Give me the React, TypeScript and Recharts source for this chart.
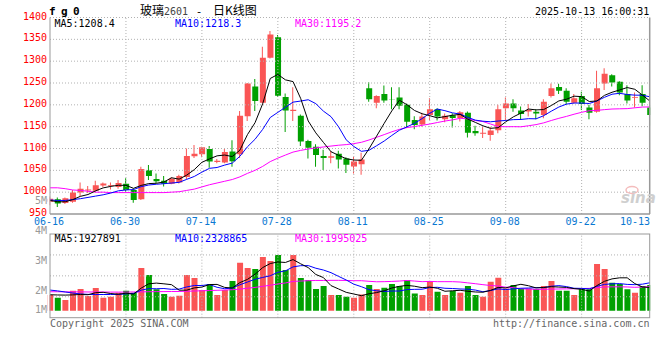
import React from "react";
import { ComposedChart, Bar, Line, XAxis, YAxis, ReferenceLine, Cell } from "recharts";

// 日K 数据 (玻璃2601)
const dates = [
  "06-16", "06-17", "06-18", "06-19", "06-20", "06-23", "06-24", "06-25", "06-26", "06-27",
  "06-30", "07-01", "07-02", "07-03", "07-04", "07-07", "07-08", "07-09", "07-10", "07-11",
  "07-14", "07-15", "07-16", "07-17", "07-18", "07-21", "07-22", "07-23", "07-24", "07-25",
  "07-28", "07-29", "07-30", "07-31", "08-01", "08-04", "08-05", "08-06", "08-07", "08-08",
  "08-11", "08-12", "08-13", "08-14", "08-15", "08-18", "08-19", "08-20", "08-21", "08-22",
  "08-25", "08-26", "08-27", "08-28", "08-29", "09-01", "09-02", "09-03", "09-04", "09-05",
  "09-08", "09-09", "09-10", "09-11", "09-12", "09-15", "09-16", "09-17", "09-18", "09-19",
  "09-22", "09-23", "09-24", "09-25", "09-26", "09-29", "09-30", "10-09", "10-10", "10-13",
];

const open = [
  978, 984, 975, 978, 999, 1004, 1003, 1015, 1014, 1012,
  1019, 1005, 984, 1050, 1030, 1026, 1019, 1022, 1035, 1082,
  1087, 1099, 1069, 1068, 1093, 1087, 1174, 1242, 1205, 1308,
  1355, 1218, 1186, 1175, 1117, 1104, 1083, 1079, 1088, 1077,
  1059, 1064, 1238, 1205, 1225, 1213, 1217, 1200, 1165, 1155,
  1177, 1190, 1167, 1176, 1170, 1182, 1140, 1134, 1131, 1142,
  1192, 1203, 1187, 1185, 1184, 1177, 1220, 1241, 1232, 1205,
  1220, 1194, 1184, 1249, 1268, 1253, 1225, 1216, 1225, 1194,
];
const close = [
  985, 974, 986, 999, 1008, 1006, 1016, 1020, 1016, 1021,
  1005, 982, 1053, 1037, 1025, 1019, 1031, 1037, 1083, 1088,
  1103, 1070, 1072, 1092, 1071, 1175, 1249, 1209, 1308, 1361,
  1221, 1187, 1189, 1116, 1102, 1085, 1078, 1082, 1075, 1063,
  1070, 1075, 1213, 1220, 1210, 1212, 1198, 1161, 1154, 1173,
  1190, 1173, 1175, 1170, 1183, 1136, 1135, 1136, 1141, 1190,
  1203, 1192, 1179, 1188, 1180, 1207, 1238, 1232, 1207, 1215,
  1202, 1182, 1238, 1271, 1251, 1228, 1210, 1218, 1205, 1177,
];
const high = [
  990, 988, 988, 1005, 1022, 1014, 1026, 1022, 1022, 1028,
  1032, 1009, 1058, 1062, 1043, 1037, 1034, 1040, 1100, 1108,
  1104, 1106, 1076, 1099, 1119, 1186, 1250, 1259, 1333, 1369,
  1360, 1226, 1240, 1178, 1120, 1110, 1097, 1094, 1095, 1080,
  1081, 1090, 1252, 1222, 1244, 1240, 1240, 1203, 1174, 1182,
  1215, 1192, 1180, 1181, 1186, 1185, 1152, 1150, 1150, 1200,
  1217, 1213, 1196, 1202, 1190, 1213, 1249, 1248, 1238, 1225,
  1230, 1200, 1278, 1284, 1270, 1254, 1245, 1228, 1245, 1200,
];
const low = [
  970, 966, 973, 976, 990, 998, 1000, 1012, 1006, 1008,
  1001, 976, 982, 1028, 1020, 1013, 1018, 1020, 1030, 1078,
  1080, 1056, 1066, 1066, 1058, 1078, 1163, 1186, 1203, 1306,
  1218, 1138, 1163, 1106, 1077, 1058, 1051, 1066, 1054, 1044,
  1043, 1040, 1207, 1192, 1205, 1190, 1190, 1148, 1144, 1150,
  1165, 1164, 1160, 1148, 1162, 1125, 1129, 1124, 1118, 1135,
  1165, 1184, 1165, 1173, 1167, 1169, 1217, 1225, 1200, 1203,
  1188, 1167, 1182, 1234, 1242, 1222, 1203, 1194, 1197, 1152,
];

// 均线 (价格)
const ma5 = [
  981, 978, 978, 983, 990.4, 994.6, 1003, 1009.8, 1013.2, 1015.8,
  1015.6, 1008.8, 1015.4, 1019.6, 1020.4, 1023.2, 1033, 1029.8, 1039, 1051.6,
  1068.4, 1076.2, 1083.2, 1085, 1081.6, 1096, 1131.8, 1159.2, 1202.4, 1260.4,
  1269.6, 1257.2, 1253.2, 1214.8, 1163, 1135.8, 1114, 1092.6, 1084.4, 1076.6,
  1073.6, 1073, 1099.2, 1128.2, 1157.6, 1186, 1210.6, 1200.2, 1187, 1179.6,
  1175.2, 1170.2, 1173, 1176.2, 1178.2, 1167.4, 1159.8, 1152, 1146.2, 1147.6,
  1161, 1172.4, 1181, 1190.4, 1188.4, 1189.2, 1198.4, 1209, 1212.8, 1219.8,
  1218.8, 1207.6, 1208.8, 1221.6, 1228.8, 1234, 1239.6, 1235.6, 1222.4, 1208.4,
];
const ma10 = [
  982, 981, 981, 983, 985, 988, 991, 994, 998, 1003.1,
  1005.1, 1005.9, 1012.6, 1016.4, 1018.1, 1019.4, 1020.9, 1022.6, 1029.3, 1036,
  1045.8, 1054.6, 1056.5, 1062, 1066.6, 1082.2, 1104, 1121.2, 1143.7, 1171,
  1182.8, 1194.5, 1206.2, 1208.6, 1211.7, 1202.7, 1185.6, 1172.9, 1149.6, 1119.8,
  1104.7, 1093.5, 1095.9, 1106.3, 1117.1, 1129.8, 1141.8, 1149.7, 1157.6, 1168.6,
  1180.6, 1190.4, 1186.6, 1181.6, 1178.9, 1171.3, 1165, 1162.5, 1161.2, 1162.9,
  1164.2, 1166.1, 1166.5, 1168.3, 1168, 1175.1, 1185.4, 1195, 1201.6, 1204.1,
  1204, 1203, 1208.9, 1217.2, 1224.3, 1226.4, 1223.6, 1222.2, 1222, 1218.3,
];
const ma30 = [
  1010, 1010, 1008, 1005, 1004, 1002, 1000, 1000, 999, 999,
  999, 999, 999, 999, 999, 999, 1000, 1001, 1004, 1007,
  1012, 1017, 1021, 1025, 1029, 1035, 1043, 1050, 1059, 1070,
  1077.9, 1085, 1091.8, 1095.7, 1098.8, 1101.4, 1103.5, 1105.6, 1107.5, 1108.9,
  1111.1, 1114.2, 1119.5, 1125.6, 1131.8, 1138.2, 1143.8, 1147.9, 1150.3, 1153.1,
  1156, 1159.5, 1162.9, 1165.5, 1169.2, 1167.9, 1164.1, 1161.7, 1156.1, 1150.4,
  1149.8, 1150, 1149.7, 1152.1, 1154.7, 1158.7, 1164.1, 1169.1, 1173.5, 1178.5,
  1182.9, 1186.5, 1187.3, 1189, 1190.4, 1190.9, 1191.3, 1193.2, 1194.9, 1195.2,
];

// 成交量 (百万手)
const volume = [
  1.31, 1.08, 0.89, 1.67, 1.81, 1.22, 1.89, 1.08, 1.17, 1.5,
  1.67, 1.5, 3.56, 2.97, 1.78, 1.39, 1.17, 1.25, 2.97, 2.72,
  1.72, 2.22, 1.31, 1.72, 2.47, 4.0, 3.56, 3.47, 4.47, 4.14,
  4.64, 3.39, 4.64, 2.72, 2.56, 1.81, 2.06, 1.31, 1.31, 1.17,
  1.08, 1.36, 2.14, 1.81, 1.92, 2.22, 2.06, 2.56, 1.44, 1.31,
  2.47, 1.58, 1.31, 1.64, 1.5, 2.06, 1.31, 1.17, 2.42, 2.75,
  1.86, 2.14, 1.81, 1.86, 1.81, 2.06, 2.47, 1.67, 1.67, 1.31,
  1.78, 1.78, 3.89, 3.47, 2.33, 2.22, 1.78, 1.5, 2.06, 2.14,
];
const volMa5 = [
  1.33, 1.31, 1.3, 1.32, 1.35, 1.33, 1.5, 1.53, 1.43, 1.37,
  1.46, 1.38, 1.88, 2.24, 2.3, 2.24, 2.17, 1.71, 1.71, 1.9,
  1.97, 2.18, 2.19, 1.94, 1.89, 2.34, 2.61, 3.04, 3.59, 3.93,
  4.06, 4.02, 4.26, 3.91, 3.59, 3.02, 2.76, 2.09, 1.81, 1.53,
  1.39, 1.25, 1.41, 1.51, 1.66, 1.89, 2.03, 2.11, 2.04, 1.92,
  1.97, 1.87, 1.62, 1.66, 1.7, 1.62, 1.56, 1.54, 1.69, 1.94,
  1.9, 2.07, 2.2, 2.08, 1.9, 1.94, 2.0, 1.97, 1.94, 1.84,
  1.78, 1.64, 2.09, 2.45, 2.65, 2.74, 2.74, 2.26, 1.98, 1.93,
];
const volMa10 = [
  1.72, 1.65, 1.56, 1.47, 1.4, 1.36, 1.35, 1.35, 1.35, 1.36,
  1.4, 1.44, 1.71, 1.84, 1.83, 1.85, 1.78, 1.8, 1.98, 2.1,
  2.1, 2.18, 1.95, 1.83, 1.89, 2.16, 2.39, 2.62, 2.77, 2.91,
  3.2, 3.32, 3.65, 3.75, 3.76, 3.54, 3.39, 3.17, 2.86, 2.56,
  2.21, 2.0, 1.75, 1.66, 1.6, 1.64, 1.64, 1.76, 1.78, 1.79,
  1.93, 1.95, 1.87, 1.85, 1.81, 1.79, 1.72, 1.58, 1.68, 1.82,
  1.76, 1.82, 1.87, 1.89, 1.92, 1.92, 2.04, 2.09, 2.01, 1.87,
  1.86, 1.82, 2.03, 2.19, 2.24, 2.26, 2.19, 2.17, 2.21, 2.33,
];
const volMa30 = [
  1.58, 1.58, 1.57, 1.57, 1.57, 1.56, 1.56, 1.56, 1.55, 1.55,
  1.55, 1.56, 1.57, 1.58, 1.59, 1.59, 1.6, 1.6, 1.62, 1.64,
  1.66, 1.68, 1.7, 1.72, 1.75, 1.8, 1.87, 1.94, 2.03, 2.12,
  2.23, 2.31, 2.44, 2.47, 2.5, 2.52, 2.52, 2.53, 2.53, 2.52,
  2.5, 2.5, 2.45, 2.41, 2.42, 2.44, 2.47, 2.52, 2.47, 2.42,
  2.44, 2.42, 2.42, 2.42, 2.39, 2.32, 2.25, 2.17, 2.1, 2.06,
  1.96, 1.92, 1.83, 1.8, 1.78, 1.78, 1.8, 1.81, 1.82, 1.83,
  1.85, 1.86, 1.92, 1.98, 1.99, 1.99, 1.98, 1.95, 1.97, 2.0,
];

const priceTicks = [950, 1000, 1050, 1100, 1150, 1200, 1250, 1300, 1350, 1400];
const dateTicks = ["06-16", "06-30", "07-14", "07-28", "08-11", "08-25", "09-08", "09-22", "10-13"];
const gridDates = ["06-30", "07-14", "07-28", "08-11", "08-25", "09-08", "09-22"];
const volLabels = ["5M", "4M", "3M", "2M", "1M"];

const MONO = "'DejaVu Sans Mono', monospace";
const CJK = "'Noto Sans CJK SC', sans-serif";
const RED = "#fa5555";
const GREEN = "#00a000";
const GRID = "#b0b0b0";
const VOL_MIN = -0.5833;
const VOL_MAX = 6.3917;

const rows = dates.map((d, i) => ({
  date: d,
  body: [Math.min(open[i], close[i]), Math.max(open[i], close[i])],
  wick: [low[i], high[i]],
  up: close[i] >= open[i],
  ma5: ma5[i],
  ma10: ma10[i],
  ma30: ma30[i],
  vol: volume[i],
  vma5: volMa5[i],
  vma10: volMa10[i],
  vma30: volMa30[i],
}));

const PriceTick = ({ y, payload }: any) => (
  <text x={47} y={y + 2} textAnchor="end" fill="#ff0000" fontSize={10} fontFamily={MONO}>
    {payload.value}
  </text>
);

const DateTick = ({ x, payload }: any) => {
  const last = payload.value === dates[dates.length - 1];
  return (
    <text x={last ? 650 : x - 1} y={225} textAnchor={last ? "end" : "middle"} fill="#0a78d2" fontSize={10} fontFamily={MONO}>
      {payload.value}
    </text>
  );
};

const PriceChart = () => (
  <ComposedChart width={660} height={232} data={rows} margin={{ top: 17.5, right: 6.2, left: 0, bottom: 0 }}>
    <XAxis xAxisId="b" dataKey="date" ticks={dateTicks} interval={0} tick={<DateTick />} axisLine={false} tickLine={false} height={18} />
    <XAxis xAxisId="w" dataKey="date" hide />
    <YAxis domain={[950, 1400]} ticks={priceTicks} interval={0} allowDataOverflow width={46.2} tick={<PriceTick />} axisLine={false} tickLine={false} />
    {priceTicks.slice(1).map((p) => (
      <ReferenceLine key={p} xAxisId="b" segment={[{ x: dates[0], y: p }, { x: dates[dates.length - 1], y: p }]} stroke={GRID} strokeDasharray="1 2" />
    ))}
    {gridDates.map((d) => (
      <ReferenceLine key={d} xAxisId="b" x={d} stroke={GRID} strokeDasharray="1 2" />
    ))}
    <Bar xAxisId="w" dataKey="wick" barSize={1} isAnimationActive={false}>
      {rows.map((r, i) => (
        <Cell key={i} fill={r.up ? RED : GREEN} />
      ))}
    </Bar>
    <Bar xAxisId="b" dataKey="body" barSize={6} isAnimationActive={false}>
      {rows.map((r, i) => (
        <Cell key={i} fill={r.up ? RED : GREEN} />
      ))}
    </Bar>
    <Line xAxisId="b" dataKey="ma30" stroke="#ff00ff" strokeWidth={1} dot={false} isAnimationActive={false} />
    <Line xAxisId="b" dataKey="ma10" stroke="#0000ff" strokeWidth={1} dot={false} isAnimationActive={false} />
    <Line xAxisId="b" dataKey="ma5" stroke="#000000" strokeWidth={1} dot={false} isAnimationActive={false} />
  </ComposedChart>
);

const volGrid = [1, 2, 3].map((k) => VOL_MAX - (k * (VOL_MAX - VOL_MIN)) / 4);

const VolumeChart = () => (
  <ComposedChart width={660} height={100} data={rows} margin={{ top: 4, right: 6.2, left: 46.2, bottom: 12.3 }}>
    <XAxis xAxisId="b" dataKey="date" hide />
    <YAxis domain={[VOL_MIN, VOL_MAX]} allowDataOverflow hide />
    {volGrid.map((v) => (
      <ReferenceLine key={v} xAxisId="b" segment={[{ x: dates[0], y: v }, { x: dates[dates.length - 1], y: v }]} stroke={GRID} strokeDasharray="1 2" />
    ))}
    {gridDates.map((d) => (
      <ReferenceLine key={d} xAxisId="b" x={d} stroke={GRID} strokeDasharray="1 2" />
    ))}
    <Bar xAxisId="b" dataKey="vol" barSize={6} isAnimationActive={false}>
      {rows.map((r, i) => (
        <Cell key={i} fill={r.up ? RED : GREEN} />
      ))}
    </Bar>
    <Line xAxisId="b" dataKey="vma30" stroke="#ff00ff" strokeWidth={1} dot={false} isAnimationActive={false} />
    <Line xAxisId="b" dataKey="vma10" stroke="#0000ff" strokeWidth={1} dot={false} isAnimationActive={false} />
    <Line xAxisId="b" dataKey="vma5" stroke="#000000" strokeWidth={1} dot={false} isAnimationActive={false} />
  </ComposedChart>
);

// 成交量刻度文字的基线位置
const volLabelY = [204, 233.5, 264.3, 294, 313.3];

const Overlay = () => (
  <svg width={660} height={360} style={{ position: "absolute", left: 0, top: 0, pointerEvents: "none" }}>
    {/* 裁掉首尾半根K线 */}
    <rect x={47.3} y={17} width={2.3} height={198} fill="#fff" />
    <rect x={650.2} y={17} width={9.8} height={198} fill="#fff" />
    <rect x={47.3} y={233} width={2.3} height={86} fill="#fff" />
    <rect x={650.2} y={233} width={9.8} height={86} fill="#fff" />
    {/* 边框 */}
    <line x1={50} y1={17.5} x2={50} y2={214} stroke="#999" />
    <line x1={649.7} y1={17.5} x2={649.7} y2={214} stroke="#999" strokeWidth={1.5} />
    <line x1={50} y1={214} x2={650} y2={214} stroke="#999" strokeWidth={1.5} />
    <rect x={50} y={234} width={599.7} height={83.7} fill="none" stroke="#999" />

    {/* 标题 */}
    <text y={15} fontSize={11} fontWeight="bold" fontFamily={MONO} fill="#000">
      <tspan x={49}>f</tspan>
      <tspan x={61}>g</tspan>
      <tspan x={73}>0</tspan>
    </text>
    <text x={140} y={15} fontSize={12} fontFamily={CJK} fill="#000">玻璃</text>
    <text x={164} y={15} fontSize={10} fontFamily={MONO} fill="#444">2601</text>
    <text x={199} y={15} fontSize={11} fontFamily={MONO} fill="#000" textAnchor="middle">-</text>
    <text x={213} y={15} fontSize={12} fontFamily={CJK} fill="#000">日K线图</text>
    <text x={535} y={15} fontSize={10} fontFamily={MONO} fill="#000">2025-10-13 16:00:31</text>

    {/* 均线图例 */}
    <text x={54.5} y={27} fontSize={10} fontFamily={MONO} fill="#000">MA5:1208.4</text>
    <text x={175} y={27} fontSize={10} fontFamily={MONO} fill="#0000ff">MA10:1218.3</text>
    <text x={295} y={27} fontSize={10} fontFamily={MONO} fill="#ff00ff">MA30:1195.2</text>
    <text x={54.5} y={241.5} fontSize={10} fontFamily={MONO} fill="#000">MA5:1927891</text>
    <text x={175} y={241.5} fontSize={10} fontFamily={MONO} fill="#0000ff">MA10:2328865</text>
    <text x={295} y={241.5} fontSize={10} fontFamily={MONO} fill="#ff00ff">MA30:1995025</text>

    {/* 成交量刻度 */}
    {volLabels.map((t, i) => (
      <text key={t} x={47} y={volLabelY[i]} textAnchor="end" fontSize={10} fontFamily={MONO} fill="#999">
        {t}
      </text>
    ))}

    {/* 水印 */}
    <ellipse cx={632} cy={190} rx={6} ry={3.5} fill="none" stroke="#f4bcbc" strokeWidth={1.5} />
    <text x={621} y={203} fontSize={15} fontStyle="italic" fontWeight="bold" fontFamily="'DejaVu Sans', sans-serif" fill="#cfcfcf">
      sina
    </text>

    {/* 页脚 */}
    <text x={50} y={326.5} fontSize={10} fontFamily={MONO} fill="#666">Copyright 2025 SINA.COM</text>
    <text x={649.5} y={326.5} textAnchor="end" fontSize={10} fontFamily={MONO} fill="#666">http://finance.sina.com.cn</text>
  </svg>
);

const App: React.FC = () => (
  <div style={{ position: "absolute", left: 0, top: 0, width: 660, height: 360, background: "#fff" }}>
    <div style={{ position: "absolute", left: 0, top: 0 }}>
      <PriceChart />
    </div>
    <div style={{ position: "absolute", left: 0, top: 230 }}>
      <VolumeChart />
    </div>
    <Overlay />
  </div>
);

export default App;
